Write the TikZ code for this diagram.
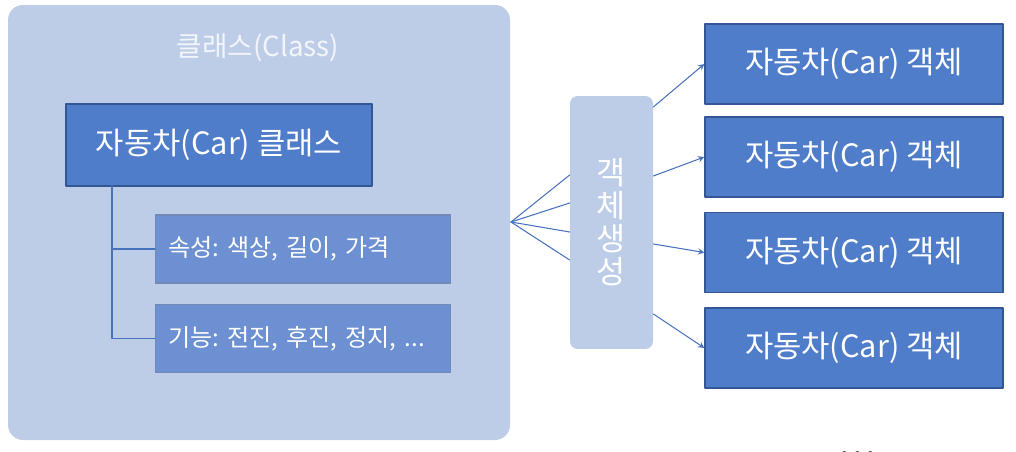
\documentclass[tikz,border=0pt]{standalone}
\usepackage{fontspec}
\setmainfont{Noto Sans CJK KR}
\frenchspacing
\definecolor{light}{RGB}{189,205,231}
\definecolor{mid}{RGB}{79,125,201}
\definecolor{soft}{RGB}{108,144,209}
\definecolor{edge}{RGB}{52,86,148}
\definecolor{link}{RGB}{72,114,190}
\tikzset{
	carbox/.style={draw=edge, line width=0.8pt, fill=mid, text=white, minimum width=5.96cm, minimum height=1.6cm, font=\fontsize{17.5}{20}\selectfont},
	partbox/.style={draw=edge!70, line width=0.8pt, fill=soft, text=white, minimum width=5.9cm, minimum height=1.36cm, text width=5.38cm, align=left, inner xsep=0.26cm, anchor=west, font=\fontsize{13.7}{16}\selectfont},
	link/.style={draw=link, line width=0.6pt}
}
\begin{document}
\begin{tikzpicture}[x=0.02cm, y=-0.02cm, >=stealth, line join=round, line cap=round]
	\useasboundingbox (0,0) rectangle (1016,452);
	\fill[light, rounded corners=0.3cm] (8,5) rectangle (510,440);
	\node[text=white!80!light, font=\fontsize{15.8}{18}\selectfont] (title) at (258,48) {클래스(Class)};
	\node[carbox, minimum width=6.12cm, minimum height=1.64cm] (car) at (219,145) {자동차(Car) 클래스};
	\node[partbox] (attr) at (155,249) {속성: 색상, 길이, 가격};
	\node[partbox] (func) at (155,338.5) {기능: 전진, 후진, 정지, ...};
	\path (112,186) coordinate (root);
	\draw[link] (root) |- (attr.west) (root) |- (func.west);
	\node[fill=light, rounded corners=0.15cm, minimum width=1.66cm, minimum height=5.06cm, text=white, align=center, font={\fontsize{18}{18.8}\selectfont\lineskiplimit=-20pt}] (gen) at (611.5,222.5) {객\\체\\생\\성};
	\path (511,222) coordinate (fan);
	\foreach \y in {175,203,232,260}{
		\draw[link] (fan) -- (gen.west |- 0,\y);
	}
	\foreach \i/\y/\s in {1/64/107,2/157/176,3/252.5/244,4/348/314}{
		\node[carbox] (obj\i) at (854,\y) {자동차(Car) 객체};
		\draw[link, ->] (gen.east |- 0,\s) -- (obj\i.west);
	}
	\node[font=\fontsize{26}{30}\selectfont, anchor=base] (more) at (858,457) {...};
\end{tikzpicture}
\end{document}
